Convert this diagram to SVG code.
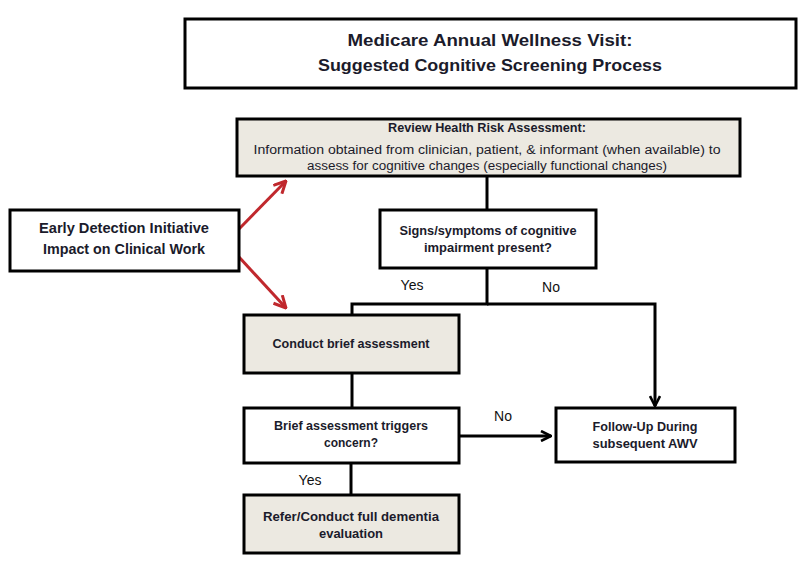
<svg xmlns="http://www.w3.org/2000/svg" width="811" height="569" viewBox="0 0 811 569">
<style>
.box{fill:#ffffff;stroke:#000;stroke-width:3}
.tan{fill:#ECE9E1;stroke:#000;stroke-width:3}
.t{font-family:"Liberation Sans",Arial,sans-serif;fill:#1b1b2b;text-anchor:middle}
.b{font-weight:bold}
.lbl{font-family:"Liberation Sans",Arial,sans-serif;fill:#111;font-size:14px;text-anchor:middle}
.ln{fill:none;stroke:#000;stroke-width:3}
.red{fill:none;stroke:#C0282D;stroke-width:3}
</style>
<defs>
<marker id="ah" viewBox="0 0 12 12" refX="11" refY="6" markerWidth="12" markerHeight="12" markerUnits="userSpaceOnUse" orient="auto">
<path d="M1,1 L11,6 L1,11" fill="none" stroke="#000" stroke-width="2.6"/>
</marker>
<marker id="ahr" viewBox="0 0 14 14" refX="13" refY="7" markerWidth="14" markerHeight="14" markerUnits="userSpaceOnUse" orient="auto">
<path d="M1,1 L13,7 L1,13" fill="none" stroke="#C0282D" stroke-width="3"/>
</marker>
</defs>
<rect width="811" height="569" fill="#fff"/>
<g id="title">
<rect class="box" x="185" y="19" width="611" height="69"/>
<text class="t b" x="490" y="46" font-size="17" fill="#000" textLength="285" lengthAdjust="spacingAndGlyphs">Medicare Annual Wellness Visit:</text>
<text class="t b" x="490" y="71" font-size="17" fill="#000" textLength="344" lengthAdjust="spacingAndGlyphs">Suggested Cognitive Screening Process</text>
</g>
<g id="connectors">
<path class="ln" d="M487,176 V210"/>
<path class="ln" d="M487,268 V304 H352 V315"/>
<path class="ln" d="M487,304 H655 V406" marker-end="url(#ah)"/>
<path class="ln" d="M352,373 V408"/>
<path class="ln" d="M459,436 H551" marker-end="url(#ah)"/>
<path class="ln" d="M351,463 V495"/>
<path class="red" d="M239,229 L286,181" marker-end="url(#ahr)"/>
<path class="red" d="M239,257 L286,308" marker-end="url(#ahr)"/>
<text class="lbl" x="412" y="290">Yes</text>
<text class="lbl" x="551" y="292">No</text>
<text class="lbl" x="503" y="421">No</text>
<text class="lbl" x="310" y="485">Yes</text>
</g>
<g id="hra">
<rect class="tan" x="237" y="119" width="503" height="57"/>
<text class="t b" x="487" y="132" font-size="12" textLength="198" lengthAdjust="spacingAndGlyphs">Review Health Risk Assessment:</text>
<text class="t" x="487" y="154" font-size="12" textLength="467" lengthAdjust="spacingAndGlyphs">Information obtained from clinician, patient, &amp; informant (when available) to</text>
<text class="t" x="487" y="170" font-size="12" textLength="360" lengthAdjust="spacingAndGlyphs">assess for cognitive changes (especially functional changes)</text>
</g>
<g id="early">
<rect class="box" x="10" y="210" width="229" height="61"/>
<text class="t b" x="124" y="233" font-size="14" textLength="170" lengthAdjust="spacingAndGlyphs">Early Detection Initiative</text>
<text class="t b" x="124" y="254" font-size="14" textLength="162" lengthAdjust="spacingAndGlyphs">Impact on Clinical Work</text>
</g>
<g id="signs">
<rect class="box" x="380" y="210" width="216" height="58"/>
<text class="t b" x="488" y="235" font-size="12.5" textLength="177" lengthAdjust="spacingAndGlyphs">Signs/symptoms of cognitive</text>
<text class="t b" x="488" y="252" font-size="12.5" textLength="128" lengthAdjust="spacingAndGlyphs">impairment present?</text>
</g>
<g id="conduct">
<rect class="tan" x="244" y="315" width="215" height="58"/>
<text class="t b" x="351" y="348" font-size="12.5" textLength="157" lengthAdjust="spacingAndGlyphs">Conduct brief assessment</text>
</g>
<g id="brief">
<rect class="box" x="244" y="408" width="215" height="55"/>
<text class="t b" x="351" y="430" font-size="12.5" textLength="154" lengthAdjust="spacingAndGlyphs">Brief assessment triggers</text>
<text class="t b" x="351" y="447" font-size="12.5" textLength="54" lengthAdjust="spacingAndGlyphs">concern?</text>
</g>
<g id="followup">
<rect class="box" x="556" y="408" width="179" height="54"/>
<text class="t b" x="645" y="431" font-size="12.5" textLength="105" lengthAdjust="spacingAndGlyphs">Follow-Up During</text>
<text class="t b" x="645" y="448" font-size="12.5" textLength="105" lengthAdjust="spacingAndGlyphs">subsequent AWV</text>
</g>
<g id="refer">
<rect class="tan" x="244" y="495" width="215" height="58"/>
<text class="t b" x="351" y="521" font-size="12.5" textLength="176" lengthAdjust="spacingAndGlyphs">Refer/Conduct full dementia</text>
<text class="t b" x="351" y="538" font-size="12.5" textLength="64" lengthAdjust="spacingAndGlyphs">evaluation</text>
</g>
</svg>
